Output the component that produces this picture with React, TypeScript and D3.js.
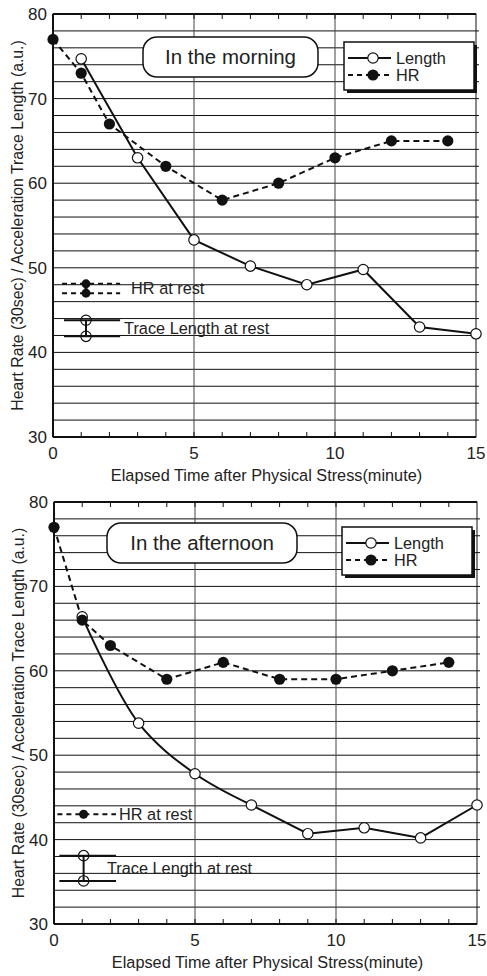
import * as d3 from 'd3'

// time points (minutes) and readings for each session
const lengthMinutes = [1, 3, 5, 7, 9, 11, 13, 15]
const hrMinutes = [0, 1, 2, 4, 6, 8, 10, 12, 14]

const amLength = [74.7, 63, 53.3, 50.2, 48, 49.8, 43, 42.2]
const amHr = [77, 73, 67, 62, 58, 60, 63, 65, 65]
const pmLength = [66.4, 53.8, 47.8, 44.1, 40.7, 41.4, 40.2, 44.1]
const pmHr = [77, 66, 63, 59, 61, 59, 59, 60, 61]

// resting reference markers (value, minute of marker, span of the bars)
const amRestHr = [48.1, 47.0]
const amRestLength = [43.8, 41.9]
const pmRestHr = [43.0]
const pmRestLength = [38.1, 35.1]
const amRestX = 1.17
const pmRestX = 1.05
const amRestSpan = [0.32, 2.38]
const pmRestSpan = [0.12, 2.2]

const xTicks = [0, 5, 10, 15]
const yTicks = [30, 40, 50, 60, 70, 80]
const gridY = d3.range(32, 80, 2)
const minorX = d3.range(1, 15)

const FONT = '"Liberation Sans", Arial, sans-serif'

type Pt = [number, number]

type PanelProps = {
  top: number
  bottom: number
  left: number
  right: number
  title: string
  titleBox: [number, number, number, number]
  legendBox: [number, number, number, number]
  length: number[]
  hr: number[]
  restHr: number[]
  restLength: number[]
  restX: number
  restSpan: number[]
  hrLabelDx: number
  lenLabelDx: number
  curveUntil: number // length line is smoothed up to this minute
}

function Panel(p: PanelProps) {
  const x = d3.scaleLinear().domain([0, 15]).range([p.left, p.right])
  const y = d3.scaleLinear().domain([30, 80]).range([p.bottom, p.top])

  const lenPts = lengthMinutes.map((m, i) => [m, p.length[i]] as Pt)
  const hrPts = hrMinutes.map((m, i) => [m, p.hr[i]] as Pt)

  const line = d3.line<Pt>()
    .x(d => x(d[0]))
    .y(d => y(d[1]))
  const smooth = d3.line<Pt>()
    .x(d => x(d[0]))
    .y(d => y(d[1]))
    .curve(d3.curveCatmullRom.alpha(0.5))

  const curvedPart = lenPts.filter(d => d[0] <= p.curveUntil)
  const straightPart = lenPts.filter(d => d[0] >= p.curveUntil)

  const [tx, ty, tw, th] = p.titleBox
  const [lx, ly, lw, lh] = p.legendBox

  const restHrMid = d3.mean(p.restHr) as number
  const restLenMid = d3.mean(p.restLength) as number

  return (
    <g fontFamily={FONT}>
      {/* grid */}
      {gridY.map(v => (
        <line key={'g' + v} x1={p.left} x2={p.right + 3} y1={y(v)} y2={y(v)} stroke="#111" strokeWidth={1} />
      ))}
      {[5, 10].map(v => (
        <line key={'v' + v} x1={x(v)} x2={x(v)} y1={p.top} y2={p.bottom} stroke="#444" strokeWidth={1} />
      ))}
      {minorX.map(v => (
        <g key={'m' + v}>
          <line x1={x(v)} x2={x(v)} y1={p.top} y2={p.top + 5} stroke="#111" strokeWidth={1} />
          <line x1={x(v)} x2={x(v)} y1={p.bottom} y2={p.bottom - 5} stroke="#111" strokeWidth={1} />
        </g>
      ))}
      {/* frame */}
      <rect x={p.left} y={p.top} width={p.right - p.left} height={p.bottom - p.top} fill="none" stroke="#111" strokeWidth={1} />
      <line x1={p.left} x2={p.right} y1={p.top} y2={p.top} stroke="#111" strokeWidth={2} />
      <line x1={p.left} x2={p.right} y1={p.bottom} y2={p.bottom} stroke="#111" strokeWidth={2} />
      <line x1={p.left} x2={p.left} y1={p.top} y2={p.bottom} stroke="#111" strokeWidth={2} />

      {/* tick labels */}
      {yTicks.map(v => (
        <text key={'yt' + v} x={p.left - 6} y={y(v)} dy="0.35em" textAnchor="end" fontSize={17} fill="#222">{v}</text>
      ))}
      {xTicks.map(v => (
        <text key={'xt' + v} x={x(v)} y={p.bottom + 22} textAnchor="middle" fontSize={17} fill="#222">{v}</text>
      ))}
      <text x={(p.left + p.right) / 2 + 2} y={p.bottom + 44} textAnchor="middle" fontSize={16.3} fill="#222">
        Elapsed Time after Physical Stress(minute)
      </text>
      <text transform={`translate(${p.left - 36},${(p.top + p.bottom) / 2}) rotate(-90)`} textAnchor="middle" dy="0.35em" fontSize={15.8} fill="#222">
        Heart Rate (30sec) / Acceleration Trace Length (a.u.)
      </text>

      {/* series */}
      <path d={line(hrPts) as string} fill="none" stroke="#111" strokeWidth={2} strokeDasharray="6,4" />
      {curvedPart.length > 1 && (
        <path d={smooth(curvedPart) as string} fill="none" stroke="#111" strokeWidth={2} />
      )}
      <path d={line(straightPart) as string} fill="none" stroke="#111" strokeWidth={2} />
      {lenPts.map((d, i) => (
        <circle key={'lc' + i} cx={x(d[0])} cy={y(d[1])} r={5.2} fill="#fff" stroke="#111" strokeWidth={1.2} />
      ))}
      {hrPts.map((d, i) => (
        <circle key={'hc' + i} cx={x(d[0])} cy={y(d[1])} r={5.6} fill="#111" />
      ))}

      {/* resting markers */}
      {p.restHr.map((v, i) => (
        <line key={'rh' + i} x1={x(p.restSpan[0])} x2={x(p.restSpan[1])} y1={y(v)} y2={y(v)} stroke="#111" strokeWidth={2} strokeDasharray="5,4" />
      ))}
      {p.restHr.length > 1 && (
        <line x1={x(p.restX)} x2={x(p.restX)} y1={y(p.restHr[0])} y2={y(p.restHr[1])} stroke="#111" strokeWidth={3} />
      )}
      {p.restHr.map((v, i) => (
        <circle key={'rhc' + i} cx={x(p.restX)} cy={y(v)} r={4.5} fill="#111" />
      ))}
      <text x={x(p.restSpan[1]) + p.hrLabelDx} y={y(restHrMid)} dy="0.35em" fontSize={16.3} fill="#222">HR at rest</text>

      {p.restLength.map((v, i) => (
        <line key={'rl' + i} x1={x(p.restSpan[0]) + 2} x2={x(p.restSpan[1])} y1={y(v)} y2={y(v)} stroke="#111" strokeWidth={2} />
      ))}
      <line x1={x(p.restX)} x2={x(p.restX)} y1={y(p.restLength[0])} y2={y(p.restLength[1])} stroke="#111" strokeWidth={2} />
      {p.restLength.map((v, i) => (
        <circle key={'rlc' + i} cx={x(p.restX)} cy={y(v)} r={5.2} fill="none" stroke="#111" strokeWidth={1.2} />
      ))}
      <text x={x(p.restSpan[1]) + p.lenLabelDx} y={y(restLenMid)} dy="0.35em" fontSize={16.3} fill="#222">Trace Length at rest</text>

      {/* title box */}
      <rect x={tx} y={ty} width={tw} height={th} rx={14} fill="#fff" stroke="#111" strokeWidth={1.5} />
      <text x={tx + tw / 2} y={ty + th / 2} dy="0.35em" textAnchor="middle" fontSize={20.5} fill="#222">{p.title}</text>

      {/* legend */}
      <rect x={lx + 3} y={ly + 3} width={lw} height={lh} fill="#111" />
      <rect x={lx} y={ly} width={lw} height={lh} fill="#fff" stroke="#111" strokeWidth={1.5} />
      <line x1={lx + 4} x2={lx + 47} y1={ly + 16} y2={ly + 16} stroke="#111" strokeWidth={2} />
      <circle cx={lx + 29} cy={ly + 16} r={5.2} fill="#fff" stroke="#111" strokeWidth={1.2} />
      <text x={lx + 52} y={ly + 16} dy="0.35em" fontSize={16.3} fill="#222">Length</text>
      <line x1={lx + 4} x2={lx + 47} y1={ly + 33} y2={ly + 33} stroke="#111" strokeWidth={2} strokeDasharray="5,4" />
      <circle cx={lx + 29} cy={ly + 33} r={5.6} fill="#111" />
      <text x={lx + 52} y={ly + 33} dy="0.35em" fontSize={16.3} fill="#222">HR</text>
    </g>
  )
}

export default function App() {
  return (
    <svg width={487} height={976} style={{ position: 'absolute', left: 0, top: 0, background: '#fff' }}>
      <Panel
        top={14} bottom={437} left={53} right={476}
        title="In the morning"
        titleBox={[143, 37, 175, 40]}
        legendBox={[344, 42, 130, 48]}
        length={amLength} hr={amHr}
        restHr={amRestHr} restLength={amRestLength}
        restX={amRestX} restSpan={amRestSpan}
        hrLabelDx={11} lenLabelDx={4}
        curveUntil={1}
      />
      <Panel
        top={502} bottom={924} left={54} right={477}
        title="In the afternoon"
        titleBox={[107, 523, 190, 40]}
        legendBox={[342, 527, 130, 48]}
        length={pmLength} hr={pmHr}
        restHr={pmRestHr} restLength={pmRestLength}
        restX={pmRestX} restSpan={pmRestSpan}
        hrLabelDx={3} lenLabelDx={-9}
        curveUntil={7}
      />
    </svg>
  )
}
